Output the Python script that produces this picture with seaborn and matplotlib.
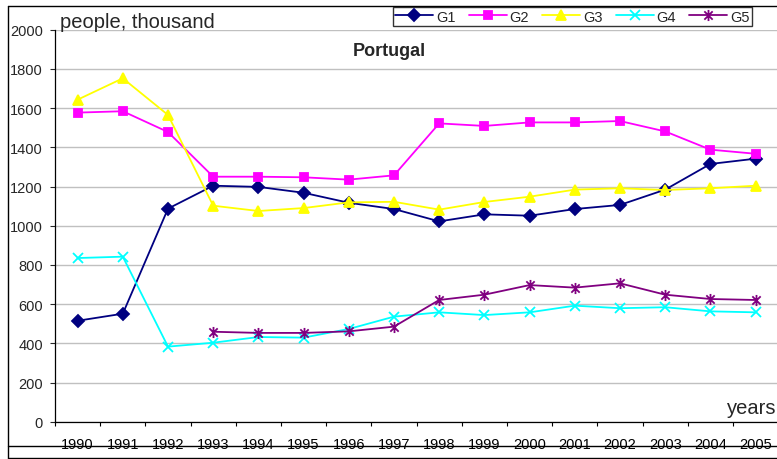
import numpy as np
import pandas as pd
import matplotlib
matplotlib.use("Agg")
import matplotlib.pyplot as plt
from matplotlib.lines import Line2D
from matplotlib.path import Path
import seaborn as sns

# data (thousand people)
years = [str(y) for y in range(1990, 2006)]
g1 = [515, 551, 1087, 1204, 1198, 1168, 1117, 1085, 1022, 1058, 1051, 1085, 1106, 1184, 1315, 1342]
g2 = [1577, 1584, 1478, 1250, 1250, 1247, 1235, 1257, 1522, 1509, 1527, 1527, 1534, 1481, 1388, 1367]
g3 = [1643, 1752, 1565, 1102, 1075, 1090, 1119, 1122, 1082, 1121, 1148, 1184, 1191, 1182, 1191, 1204]
g4 = [835, 842, 383, 403, 432, 429, 473, 536, 558, 544, 558, 592, 579, 584, 563, 558]
g5 = [np.nan, np.nan, np.nan, 459, 453, 453, 461, 485, 621, 648, 697, 684, 706, 648, 626, 621]
series_names = ["G1", "G2", "G3", "G4", "G5"]

# Excel-like star marker: x with a vertical stroke
star = Path([(0, -1), (0, 1), (-0.75, -0.75), (0.75, 0.75), (-0.75, 0.75), (0.75, -0.75)],
            [Path.MOVETO, Path.LINETO] * 3)

styles = {
    "G1": dict(color="#000080", marker="D", ms=6),
    "G2": dict(color="#FF00FF", marker="s", ms=6),
    "G3": dict(color="#FFFF00", marker="^", ms=7.5),
    "G4": dict(color="#00FFFF", marker="x", ms=7),
    "G5": dict(color="#800080", marker=star, ms=8),
}

sns.set_style("white")
plt.rcParams["font.family"] = ["Liberation Sans", "DejaVu Sans"]

fig = plt.figure(figsize=(7.77, 4.60), dpi=100)
ax = fig.add_axes([55 / 777, 1 - 422.7 / 460, 723.2 / 777, 392 / 460])

pos = np.arange(len(years))
for name, vals in zip(series_names, [g1, g2, g3, g4, g5]):
    st = styles[name]
    df = pd.DataFrame({"pos": pos, "value": vals})
    sns.lineplot(data=df, x="pos", y="value", ax=ax, color=st["color"], linewidth=1.3,
                 marker=st["marker"], markersize=st["ms"], markeredgecolor=st["color"],
                 markerfacecolor=st["color"], markeredgewidth=1.3, label=name,
                 errorbar=None, legend=False)

ax.set_xlim(-0.5, len(years) - 0.5)
ax.set_ylim(0, 2000)
ax.set_yticks(range(0, 2001, 200))
ax.set_xticks(pos)
ax.set_xticklabels(years)
ax.set_xticks(np.arange(-0.5, len(years), 1.0), minor=True)
ax.tick_params(axis="x", which="major", length=0, pad=11, labelsize=10.5, colors="black")
ax.tick_params(axis="x", which="minor", length=3, width=0.8, direction="out", color="black", bottom=True)
ax.tick_params(axis="y", length=3.6, width=0.8, direction="out", pad=5, labelsize=10.5, left=True)
ax.set_xlabel("")
ax.set_ylabel("")
ax.yaxis.grid(True, color="#c0c0c0", linewidth=1)
ax.xaxis.grid(False)
ax.set_axisbelow(True)
for side in ["top", "right"]:
    ax.spines[side].set_visible(False)
for side in ["left", "bottom"]:
    ax.spines[side].set_color("black")
    ax.spines[side].set_linewidth(0.9)

fig.text(60 / 777, 1 - 22 / 460, "people, thousand", fontsize=14.5, va="center", ha="left")
fig.text(389 / 777, 1 - 51 / 460, "Portugal", fontsize=13, fontweight="bold", va="center", ha="center")
fig.text(776 / 777, 1 - 409 / 460, "years", fontsize=14.5, va="center", ha="right")

handles, labels = ax.get_legend_handles_labels()
leg = fig.legend(handles, labels, loc="center", bbox_to_anchor=(572.5 / 777, 1 - 17.5 / 460),
                 ncol=5, fontsize=10.5, frameon=True, fancybox=False, shadow=False,
                 handlelength=2.6, handletextpad=0.2, columnspacing=0.9,
                 borderpad=0.15, borderaxespad=0)
leg.get_frame().set_edgecolor("black")
leg.get_frame().set_linewidth(1)

# chart-area border lines like the original export
fig.add_artist(Line2D([8 / 777, 8 / 777], [1 - 7 / 460, 1 - 459 / 460], color="black", lw=1))
fig.add_artist(Line2D([8 / 777, 1], [1 - 7 / 460, 1 - 7 / 460], color="black", lw=1))
fig.add_artist(Line2D([8 / 777, 1], [1 - 459 / 460, 1 - 459 / 460], color="black", lw=1))
fig.add_artist(Line2D([8 / 777, 1], [1 - 446.7 / 460, 1 - 446.7 / 460], color="black", lw=1))

fig.savefig("out.png", dpi=100)
